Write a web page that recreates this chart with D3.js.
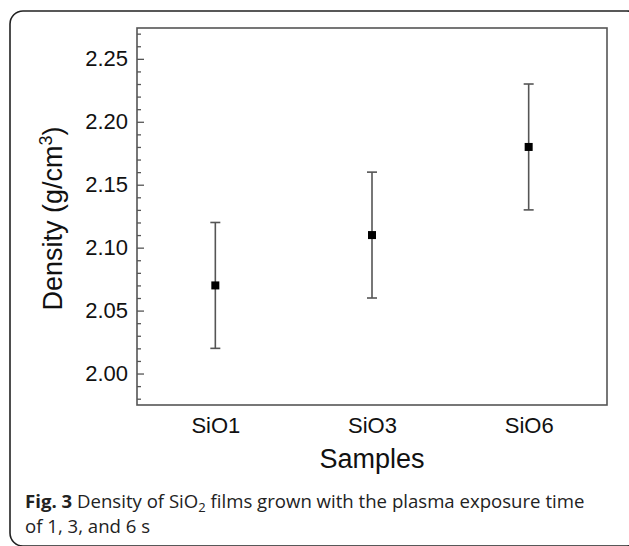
<!DOCTYPE html>
<html>
<head>
<meta charset="utf-8">
<script src="https://cdn.jsdelivr.net/npm/d3@7"></script>
<style>
  body { margin: 0; background: #fff; }
  svg { display: block; }
</style>
</head>
<body>
<div id="chart"></div>
<script>
// data
const samples = ["SiO1", "SiO3", "SiO6"];
const density = [2.07, 2.11, 2.18];
const densityErr = [0.05, 0.05, 0.05];
const yMajorTicks = [2.00, 2.05, 2.10, 2.15, 2.20, 2.25];

const width = 629;
const height = 546;
const plot = { left: 137, top: 28, right: 607, bottom: 405 };

const svg = d3.select("#chart").append("svg")
    .attr("width", width)
    .attr("height", height);

// rounded outer frame (runs past right/bottom edges)
svg.append("rect")
    .attr("x", 10).attr("y", 11)
    .attr("width", 630).attr("height", 535)
    .attr("rx", 13)
    .attr("fill", "none")
    .attr("stroke", "#222")
    .attr("stroke-width", 1.6);

const x = d3.scaleLinear()
    .domain([0.5, samples.length + 0.5])
    .range([plot.left, plot.right]);

const y = d3.scaleLinear()
    .domain([1.975, 2.2745])
    .range([plot.bottom, plot.top]);

const axisColor = "#555";

// minor ticks every 0.01
const minorTicks = d3.range(198, 228).map(v => v / 100)
    .filter(v => !yMajorTicks.some(m => Math.abs(m - v) < 1e-6));

svg.append("g")
    .attr("transform", `translate(${plot.left},0)`)
    .call(d3.axisLeft(y).tickValues(minorTicks).tickSize(-4).tickFormat(""))
    .call(g => g.select(".domain").remove())
    .call(g => g.selectAll("line").attr("stroke", axisColor).attr("stroke-width", 1.3));

svg.append("g")
    .attr("transform", `translate(${plot.left},0)`)
    .call(d3.axisLeft(y).tickValues(yMajorTicks).tickSize(-7).tickPadding(9).tickFormat(d3.format(".2f")))
    .call(g => g.select(".domain").remove())
    .call(g => g.selectAll("line").attr("stroke", axisColor).attr("stroke-width", 1.3))
    .call(g => g.selectAll("text")
        .attr("fill", "#111")
        .style("font-family", "'Liberation Sans', Arial, sans-serif")
        .style("font-size", "22px"));

// x labels
svg.append("g")
    .attr("transform", `translate(0,${plot.bottom})`)
    .call(d3.axisBottom(x).tickValues(samples.map((d, i) => i + 1)).tickSize(0).tickPadding(12)
        .tickFormat((d, i) => samples[i]))
    .call(g => g.select(".domain").remove())
    .call(g => g.selectAll("text")
        .attr("fill", "#111")
        .style("font-family", "'Liberation Sans', Arial, sans-serif")
        .style("font-size", "22px"));

// plot frame
svg.append("rect")
    .attr("x", plot.left).attr("y", plot.top)
    .attr("width", plot.right - plot.left)
    .attr("height", plot.bottom - plot.top)
    .attr("fill", "none")
    .attr("stroke", axisColor)
    .attr("stroke-width", 1.6);

// error bars
const pts = samples.map((s, i) => ({ s, i: i + 1, v: density[i], e: densityErr[i] }));
const bars = svg.append("g").selectAll("g").data(pts).join("g");

bars.append("line")
    .attr("x1", d => x(d.i)).attr("x2", d => x(d.i))
    .attr("y1", d => y(d.v - d.e)).attr("y2", d => y(d.v + d.e))
    .attr("stroke", "#555").attr("stroke-width", 1.6);
bars.selectAll(".cap")
    .data(d => [d.v - d.e, d.v + d.e].map(v => ({ i: d.i, v })))
    .join("line")
    .attr("class", "cap")
    .attr("x1", d => x(d.i) - 5).attr("x2", d => x(d.i) + 5)
    .attr("y1", d => y(d.v)).attr("y2", d => y(d.v))
    .attr("stroke", "#555").attr("stroke-width", 1.6);
bars.append("rect")
    .attr("x", d => x(d.i) - 4).attr("y", d => y(d.v) - 4)
    .attr("width", 8).attr("height", 8)
    .attr("fill", "#000");

// axis titles
const yTitle = svg.append("text")
    .attr("transform", `translate(62,${(plot.top + plot.bottom) / 2 + 2}) rotate(-90)`)
    .attr("text-anchor", "middle")
    .attr("fill", "#111")
    .style("font-family", "'Liberation Sans', Arial, sans-serif")
    .style("font-size", "27px");
yTitle.append("tspan").text("Density (g/cm");
yTitle.append("tspan").attr("dy", -10).style("font-size", "18px").text("3");
yTitle.append("tspan").attr("dy", 10).text(")");

svg.append("text")
    .attr("x", (plot.left + plot.right) / 2)
    .attr("y", 468)
    .attr("text-anchor", "middle")
    .attr("fill", "#111")
    .style("font-family", "'Liberation Sans', Arial, sans-serif")
    .style("font-size", "27px")
    .text("Samples");

// caption
const capFont = "'Open Sans', 'Noto Sans', sans-serif";
const cap1 = svg.append("text")
    .attr("x", 25).attr("y", 508)
    .attr("fill", "#222")
    .style("font-family", capFont)
    .style("font-size", "18.6px");
cap1.append("tspan").style("font-weight", "bold").text("Fig. 3");
cap1.append("tspan").text(" Density of SiO");
cap1.append("tspan").attr("dy", 4).style("font-size", "13px").text("2");
cap1.append("tspan").attr("dy", -4).text(" films grown with the plasma exposure time");

svg.append("text")
    .attr("x", 25).attr("y", 533)
    .attr("fill", "#222")
    .style("font-family", capFont)
    .style("font-size", "18.6px")
    .text("of 1, 3, and 6 s");
</script>
</body>
</html>
